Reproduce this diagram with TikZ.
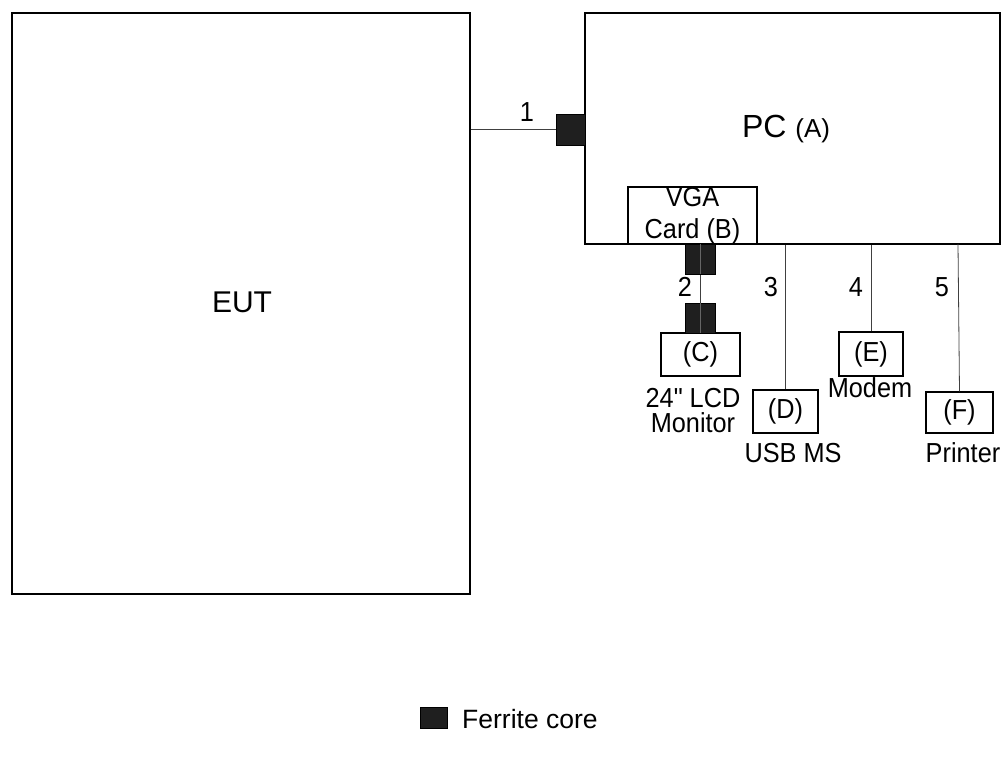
\documentclass[tikz,border=0pt]{standalone}
\usepackage{fontspec}
\setmainfont{Liberation Sans}
\newfontfamily\plainsans{Liberation Sans}
\newfontfamily\condsans{Liberation Sans}[FakeStretch=0.92]
\begin{document}
\begin{tikzpicture}[x=1pt,y=-1pt,
  box/.style={draw=black,line width=1.4pt,inner sep=0pt,fill=white},
  dev/.style={draw=black,line width=1.4pt,inner sep=0pt,fill=white,font=\condsans\fontsize{27.5}{30}\selectfont},
  ferrite/.style={fill=black!88,draw=black,line width=0.6pt,inner sep=0pt},
  cable/.style={draw=black!75,line width=0.8pt},
  lbl/.style={inner sep=0pt,anchor=base,font=\condsans\fontsize{27.5}{30}\selectfont}]
\useasboundingbox (0,0) rectangle (1005,762);
% main boxes
\node[box,minimum width=458pt,minimum height=581pt] (eut) at (241,303.5) {};
\node[lbl,font=\plainsans\fontsize{30}{34}\selectfont] (eutt) at (242,313) {EUT};
\node[box,minimum width=415pt,minimum height=231pt] (pc) at (792.5,128.5) {};
\node[lbl,font=\plainsans\fontsize{32}{34}\selectfont] (pct) at (786,138) {PC {\fontsize{26}{28}\selectfont (A)}};
\node[box,minimum width=129pt,minimum height=57pt] (vga) at (692.5,215.5) {};
\node[lbl] (vga1) at (692.5,207) {VGA};
\node[lbl] (vga2) at (692.5,239) {Card (B)};
% cable 1
\node[ferrite,minimum width=29pt,minimum height=31pt] (f1) at (570.5,129.5) {};
\draw[cable] (eut.east |- f1.west) -- (f1.west);
\node[lbl] (l1) at (527,122) {1};
% peripherals
\node[dev,minimum width=79pt,minimum height=43pt] (c) at (700.5,354.5) {(C)};
\node[dev,minimum width=65pt,minimum height=43pt] (d) at (785.5,411.5) {(D)};
\node[dev,minimum width=64pt,minimum height=44pt] (e) at (871,354) {(E)};
\node[dev,minimum width=67pt,minimum height=41pt] (f) at (959.5,412.5) {(F)};
% cable 2 with ferrites
\coordinate (c2top) at (700,244);
\draw[cable] (c2top) -- (c.north -| c2top);
\node[ferrite,minimum width=30pt,minimum height=30pt] (f2a) at (700,259) {};
\node[ferrite,minimum width=30pt,minimum height=30pt] (f2b) at (700,318) {};
\draw[black!60,line width=0.8pt] (f2a.north) -- (f2a.south);
\draw[black!60,line width=0.8pt] (f2b.north) -- (f2b.south);
% other cables
\draw[cable] (d.north) -- (d.north |- pc.south);
\draw[cable] (e.north) -- (e.north |- pc.south);
\coordinate (c5top) at (958,244);
\draw[cable] (f.north) -- (c5top);
% labels
\node[lbl] (l2) at (685,297) {2};
\node[lbl] (l3) at (771,297) {3};
\node[lbl] (l4) at (856,297) {4};
\node[lbl] (l5) at (942,297) {5};
\node[lbl] (cl1) at (693,407) {24{\char"22} LCD};
\node[lbl] (cl2) at (693,432) {Monitor};
\node[lbl] (dl) at (793,462) {USB MS};
\node[lbl] (el) at (870,397) {Modem};
\node[lbl] (fl) at (963,462) {Printer};
% legend
\node[ferrite,minimum width=27pt,minimum height=21pt] (leg) at (433.5,717.5) {};
\node[lbl,anchor=base west,font=\plainsans\fontsize{26.5}{30}\selectfont] (legt) at (462,728) {Ferrite core};
\end{tikzpicture}
\end{document}
